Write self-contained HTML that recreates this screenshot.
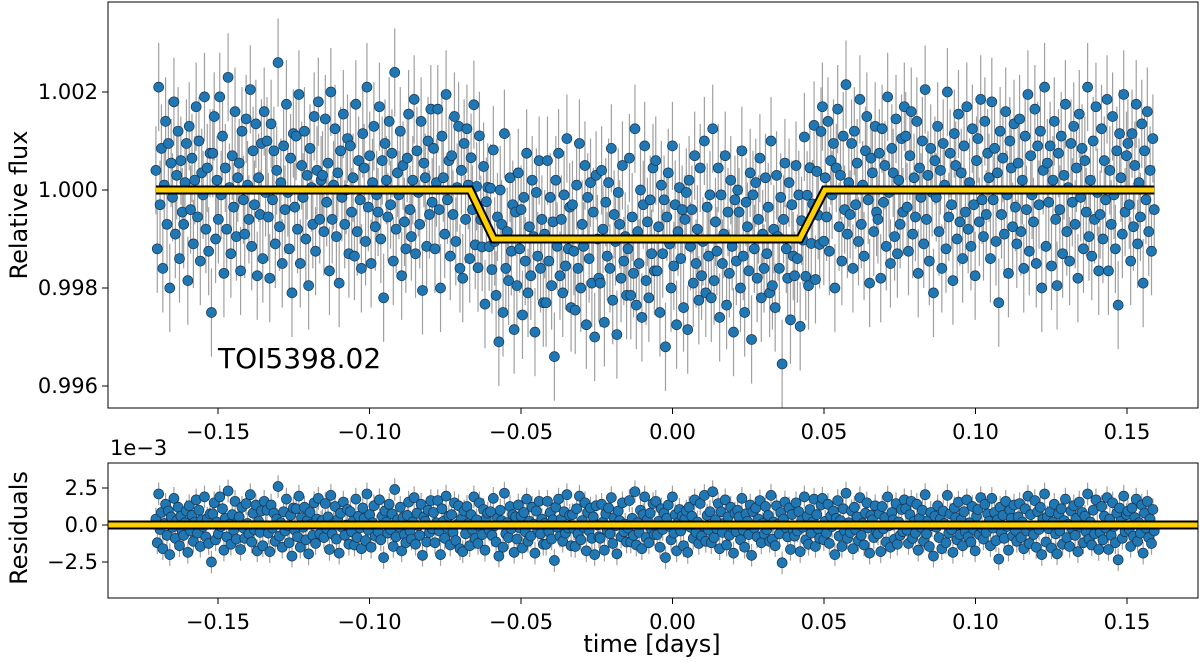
<!DOCTYPE html>
<html><head><meta charset="utf-8">
<style>
html,body{margin:0;padding:0;background:#fff;}
svg{display:block;font-family:"DejaVu Sans","Liberation Sans",sans-serif;}
</style></head>
<body>
<svg id="chart" width="1200" height="663" viewBox="0 0 1200 663">
<g id="topPanel"></g>
<g id="botPanel"></g>
</svg>
<script>
// ---- data ----
const tStart = -0.1705, tEnd = 0.159;
const modelT1 = -0.0668, modelT2 = -0.059, modelT3 = 0.042, modelT4 = 0.0503;
const modelDepth = 0.001;
const errBar = 0.0009;
const xTicks = [-0.15,-0.10,-0.05,0.00,0.05,0.10,0.15];
const xTickLabels = ["\u22120.15","\u22120.10","\u22120.05","0.00","0.05","0.10","0.15"];
const fluxTicks = [0.996,0.998,1.000,1.002];
const fluxTickLabels = ["0.996","0.998","1.000","1.002"];
const resTicks = [-2.5,0,2.5];
const resTickLabels = ["\u22122.5","0.0","2.5"];
// residuals in units of 1e-5
const residuals = [
 40,-120,210,-30,85,-160,10,140,-70,95,-200,55,-15,180,-90,30,120,-140,60,-45,
 -70,15,95,-185,130,-40,65,-110,20,170,-55,100,-145,35,-10,190,-80,45,-125,75,
 -250,75,150,-100,20,-60,190,-10,110,-170,45,-80,230,5,-130,70,-35,160,-95,25,
 55,-165,120,-20,-90,145,10,-60,205,-115,80,-30,135,-175,25,-50,95,-140,160,-5,
 100,-55,-180,135,-20,80,-110,40,260,-75,15,-150,90,-40,175,-5,-120,65,-210,115,
 -35,110,-80,195,-150,50,-15,120,-100,30,-195,85,5,-70,150,-125,40,180,-60,20,
 30,-85,145,-25,55,-165,200,-60,10,125,-95,35,-190,80,-15,155,-70,0,105,-130,
 90,-45,25,-135,175,-85,60,-20,-160,115,45,-105,210,-35,70,-150,15,130,-75,-10,
 -45,170,-100,60,-220,95,20,-55,140,-30,75,-145,240,-80,35,-10,120,-175,50,-65,
 -120,65,155,-40,-95,20,185,-130,80,-5,-70,140,-205,55,25,-115,100,-50,165,-25,
 85,-120,15,165,-40,-200,110,25,-90,195,-20,60,-135,70,-50,150,-105,5,130,-160,
 40,-180,95,-60,125,10,-140,70,-30,190,-90,35,-125,150,-15,-65,105,-170,45,80,
 -35,90,-70,180,-5,-115,45,-210,100,30,-150,215,-60,15,-85,125,-25,70,-185,55,
 -95,135,-20,60,-155,85,-45,175,-110,25,-75,120,5,-190,95,-35,160,-60,40,-130,
 10,-130,160,-45,85,-95,35,-240,120,-15,175,-75,40,-110,90,-55,205,-20,65,-140,
 70,-25,-145,110,-60,195,-100,30,-15,150,-175,85,-40,115,-90,55,-200,130,0,-80,
 -90,140,20,-170,75,-35,115,-60,185,-125,50,-5,-195,95,30,-80,150,-45,5,-115,
 -20,165,-115,45,-70,225,-135,15,-50,100,-160,70,190,-85,35,-120,80,-30,145,-65,
 160,-65,25,-150,110,-30,80,-220,45,135,-10,-100,190,-55,70,-175,15,105,-40,60,
 -140,40,95,-185,120,-15,60,-90,170,-50,20,-125,145,-75,-5,200,-110,65,-35,90,
 -120,225,-85,35,-25,145,-160,90,-50,10,170,-135,55,-70,120,-15,-190,80,-45,100,
 55,-100,180,-35,-150,75,25,-65,135,-205,90,-20,115,-80,40,165,-120,10,-60,125,
 -30,65,-110,200,-95,20,-140,130,5,-60,85,-255,40,155,-20,-80,115,-165,70,-35,
 -75,150,-40,90,-180,30,-15,190,-100,60,-130,105,-55,20,175,-145,70,-25,-90,135,
 180,-100,25,-55,140,-125,60,-10,95,-200,45,165,-75,30,-145,110,-40,215,-90,15,
 -50,95,-160,120,-30,55,-105,185,-70,10,-135,80,150,-20,-190,65,35,-85,130,-45,
 -60,75,-180,125,-25,50,-115,190,-5,-150,85,35,-95,145,-130,20,-70,105,-45,170,
 110,-35,-125,70,160,-90,25,-55,140,-170,45,-15,100,-110,205,-60,30,-145,85,-5,
 -210,60,-15,130,-85,40,-160,95,10,-120,200,-55,75,-30,-185,115,50,-100,155,-65,
 35,-140,90,-45,170,-80,15,-115,125,-30,-175,60,105,-65,185,-20,-95,140,-50,75,
 25,-140,180,-20,85,-105,35,-230,120,-50,65,-90,160,-10,-170,100,45,-75,135,-35,
 -110,55,145,-85,20,-160,110,-40,195,-125,70,-10,-65,165,-150,90,-30,120,-200,40,
 210,-115,55,-25,90,-155,20,140,-60,-195,75,-40,110,-130,30,175,-85,5,-145,95,
 -25,130,-70,45,-180,155,-15,85,-120,60,-45,210,-95,20,-135,100,-60,170,-5,-165,
 -50,125,-100,60,-20,185,-165,40,-70,150,-10,-120,80,-235,115,25,-90,195,-45,70,
 95,-30,-145,115,-75,50,175,-110,15,-55,135,-190,80,-20,160,-85,40,-125,105,-40
];
// ---- geometry ----
const X0=108, X1=1198;
const xs = t => 672.5 + t*3030;
const TP={y0:2,y1:408}, BP={y0:463,y1:598};
const yf = v => 190 - (v-1.0)*49000;
const yr = v => 525 - v*14.8; // v in 1e-3
const NS="http://www.w3.org/2000/svg";
function el(parent,tag,attrs){const e=document.createElementNS(NS,tag);for(const k in attrs)e.setAttribute(k,attrs[k]);parent.appendChild(e);return e;}
function model(t){
  if(t<=modelT1||t>=modelT4) return 1;
  if(t<modelT2) return 1-modelDepth*(t-modelT1)/(modelT2-modelT1);
  if(t<=modelT3) return 1-modelDepth;
  return 1-modelDepth*(modelT4-t)/(modelT4-modelT3);
}
const topG=document.getElementById('topPanel'), botG=document.getElementById('botPanel');
const n=residuals.length;
const times=residuals.map((r,i)=>tStart+(tEnd-tStart)*i/(n-1));

function valOf(P,t,i){ return P==='top' ? model(t)+residuals[i]*1e-5 : residuals[i]/100; }
function drawErr(g,P,ymap){
  times.forEach((t,i)=>{
    const v=valOf(P,t,i);
    const e = P==='top' ? errBar : errBar*1000*0.85;
    const l=el(g,'line',{x1:xs(t),x2:xs(t),y1:ymap(v-e),y2:ymap(v+e),stroke:'#a0a0a0','stroke-width':1.2});
    
    
  });
}
function drawPts(g,P,ymap){
  times.forEach((t,i)=>{
    const v=valOf(P,t,i);
    const c=el(g,'circle',{cx:xs(t),cy:ymap(v),r:5,fill:'#1f77b4',stroke:'#1a3550','stroke-width':0.7});
    
    
  });
}
function drawModel(g,pts,name){
  const d=pts.map((p,i)=>(i?'L':'M')+p[0].toFixed(1)+','+p[1].toFixed(1)).join('');
  const a=el(g,'path',{d:d,fill:'none',stroke:'#000','stroke-width':9});
  
  
  const b=el(g,'path',{d:d,fill:'none',stroke:'#ffd000','stroke-width':5});
  
  
}
drawErr(topG,'top',yf);
drawPts(topG,'top',yf);
drawModel(topG,[tStart,modelT1,modelT2,modelT3,modelT4,tEnd].map(t=>[xs(t),yf(model(t))]),'transit-model');
drawErr(botG,'bot',yr);
drawPts(botG,'bot',yr);
drawModel(botG,[[X0,yr(0)],[X1,yr(0)]],'zero-line');

function frame(g,P,ymap,ticks,labels,name){
  const r=el(g,'rect',{x:X0,y:P.y0,width:X1-X0,height:P.y1-P.y0,fill:'none',stroke:'#000','stroke-width':1});
  
  
  xTicks.forEach((v,i)=>{
    el(g,'line',{x1:xs(v),x2:xs(v),y1:P.y1,y2:P.y1+6,stroke:'#000','stroke-width':1});
    const tx=el(g,'text',{x:xs(v),y:P.y1+31,'font-size':21,'text-anchor':'middle',fill:'#000'});
    tx.textContent=xTickLabels[i];
    
    
  });
  ticks.forEach((v,i)=>{
    el(g,'line',{x1:X0-6,x2:X0,y1:ymap(v),y2:ymap(v),stroke:'#000','stroke-width':1});
    const tx=el(g,'text',{x:X0-10,y:ymap(v)+7,'font-size':21,'text-anchor':'end',fill:'#000'});
    tx.textContent=labels[i];
    
    
  });
}
frame(topG,TP,yf,fluxTicks,fluxTickLabels,'flux-axes');
frame(botG,BP,yr,resTicks,resTickLabels,'residual-axes');
function txt(x,y,s,size,name,rot,anchor){
  const t=el(document.getElementById('chart'),'text',{x:x,y:y,'font-size':size,'text-anchor':anchor||'middle',fill:'#000'});
  if(rot) t.setAttribute('transform','rotate(-90 '+x+' '+y+')');
  t.textContent=s;
  
  
}
txt(27,205,'Relative flux',24,'y-axis-title',true);
txt(27,528,'Residuals',24,'residuals-axis-title',true);
txt(652,652,'time [days]',24,'x-axis-title');
txt(218,368,'TOI5398.02',28,'planet-label',false,'start');
txt(110,455,'1e\u22123',21,'offset-label',false,'start');
</script>
</body></html>
